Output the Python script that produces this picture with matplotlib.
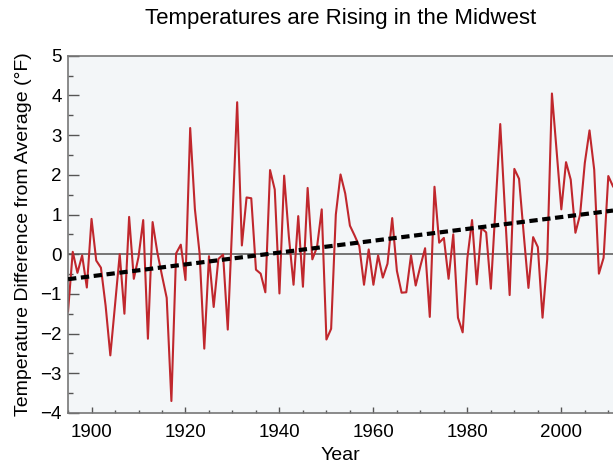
import numpy as np
import matplotlib
matplotlib.use("Agg")
import matplotlib.pyplot as plt
from matplotlib.ticker import MultipleLocator

plt.rcParams['font.family'] = ['Liberation Sans', 'DejaVu Sans']

# annual temperature difference from average (deg F)
years = list(range(1895, 2012))
temps = [
    -1.44, 0.06, -0.47, -0.03, -0.84,            # 1895-1899
    0.89, -0.16, -0.34, -1.30, -2.55,            # 1900-1904
    -1.28, 0.00, -1.50, 0.94, -0.62,             # 1905-1909
    -0.07, 0.86, -2.13, 0.81, 0.05,              # 1910-1914
    -0.54, -1.10, -3.70, 0.02, 0.24,             # 1915-1919
    -0.65, 3.18, 1.14, 0.02, -2.38,              # 1920-1924
    -0.05, -1.33, -0.12, -0.01, -1.90,           # 1925-1929
    0.90, 3.83, 0.22, 1.43, 1.41,                # 1930-1934
    -0.39, -0.49, -0.96, 2.12, 1.63,             # 1935-1939
    -0.99, 1.98, 0.45, -0.77, 0.96,              # 1940-1944
    -0.82, 1.67, -0.13, 0.18, 1.13,              # 1945-1949
    -2.15, -1.88, 1.00, 2.01, 1.53,              # 1950-1954
    0.72, 0.47, 0.20, -0.77, 0.12,               # 1955-1959
    -0.77, -0.03, -0.59, -0.24, 0.91,            # 1960-1964
    -0.42, -0.97, -0.96, -0.03, -0.79,           # 1965-1969
    -0.30, 0.15, -1.58, 1.70, 0.29,              # 1970-1974
    0.41, -0.62, 0.50, -1.60, -1.97,             # 1975-1979
    -0.10, 0.86, -0.76, 0.66, 0.55,              # 1980-1984
    -0.87, 1.20, 3.28, 1.10, -1.03,              # 1985-1989
    2.15, 1.90, 0.50, -0.85, 0.43,               # 1990-1994
    0.18, -1.60, -0.13, 4.05, 2.60,              # 1995-1999
    1.13, 2.32, 1.88, 0.54, 1.00,                # 2000-2004
    2.30, 3.12, 2.13, -0.49, -0.09,              # 2005-2009
    1.97, 1.71,                                  # 2010-2011
]

# linear trend (dashed line) end points
trend_years = [1895, 2011]
trend_vals = [-0.63, 1.10]

fig = plt.figure(figsize=(6.13, 4.65), dpi=100)
ax = fig.add_axes([0.111, 0.112, 0.889, 0.768])
ax.set_facecolor('#f3f6f8')

ax.axhline(0, color='#6b6b6b', lw=1.3, zorder=1)
ax.plot(years, temps, color='#c0272d', lw=1.5, zorder=2)
ax.plot(trend_years, trend_vals, color='black', lw=3, dashes=(2.0, 1.1), zorder=3)

ax.set_xlim(1895, 2011)
ax.set_ylim(-4, 5)
ax.xaxis.set_major_locator(MultipleLocator(20))
ax.xaxis.set_minor_locator(MultipleLocator(5))
ax.yaxis.set_major_locator(MultipleLocator(1))
ax.yaxis.set_minor_locator(MultipleLocator(0.5))
ax.tick_params(which='both', direction='in', color='#555555', top=False, right=False,
               labelsize=13.5)
ax.tick_params(axis='x', which='major', length=4.5, width=1, pad=8)
ax.tick_params(axis='x', which='minor', length=2.2, width=1)
ax.tick_params(axis='y', which='major', length=8, width=1, pad=4.5)
ax.tick_params(axis='y', which='minor', length=3.6, width=1)

for side in ['left', 'bottom', 'top']:
    ax.spines[side].set_color('#777777')
    ax.spines[side].set_linewidth(1.2)
ax.spines['right'].set_visible(False)

ax.set_xlabel('Year', fontsize=14, labelpad=4)
ax.set_ylabel('Temperature Difference from Average (\u00b0F)', fontsize=14, labelpad=6)
fig.suptitle('Temperatures are Rising in the Midwest', fontsize=16, x=0.555, y=0.983)

fig.savefig('out.png', dpi=100)
